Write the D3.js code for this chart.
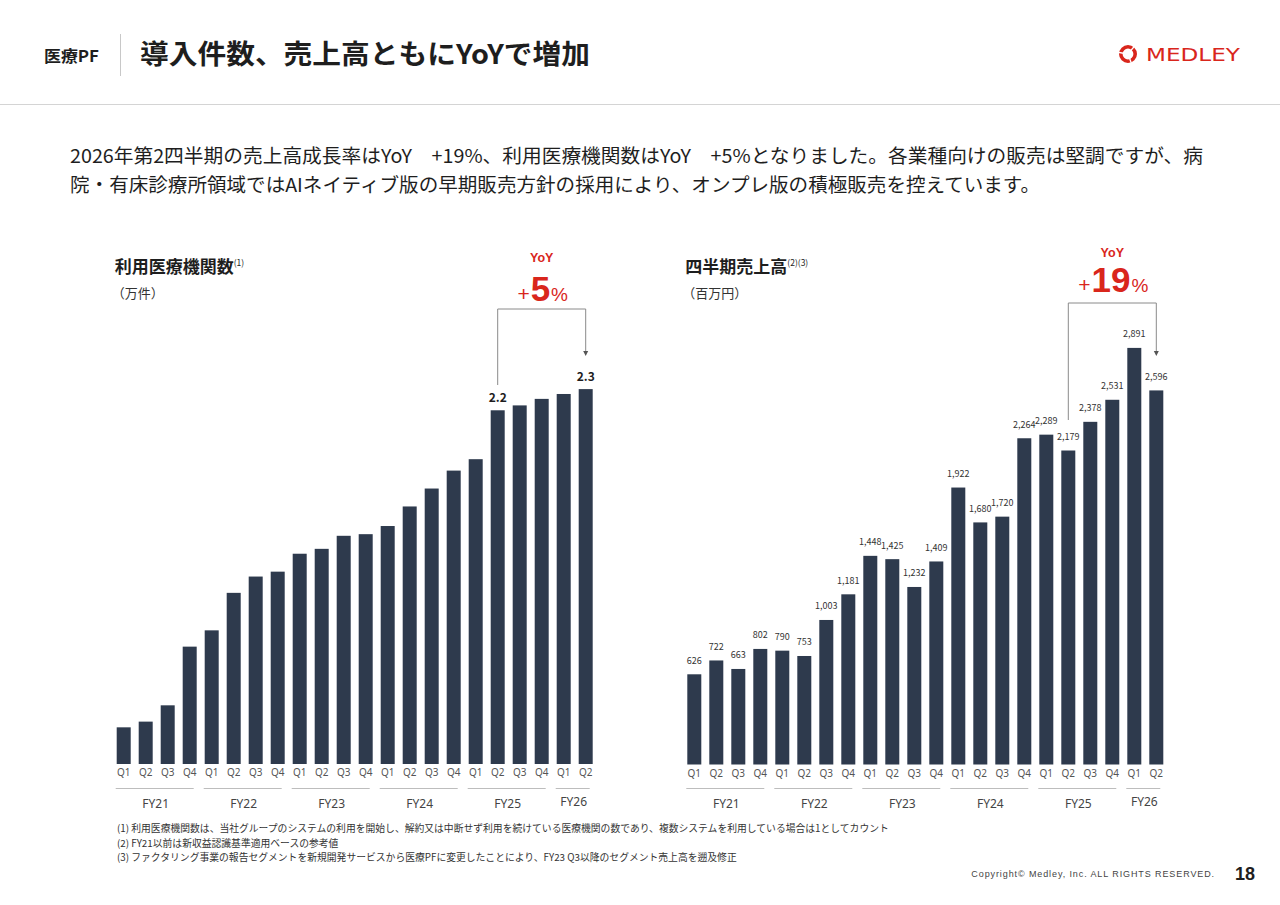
<!DOCTYPE html>
<html>
<head>
<meta charset="utf-8">
<script src="https://cdn.jsdelivr.net/npm/d3@7"></script>
<style>
  html, body { margin: 0; padding: 0; background: #fff; }
  svg { display: block; font-family: "Noto Sans CJK JP", "Noto Sans", sans-serif; }
</style>
</head>
<body>
<svg id="page" width="1280" height="905"></svg>
<script>
// ---- data ----
const fiscalYears = ["FY21", "FY22", "FY23", "FY24", "FY25", "FY26"]
const quarterLabels = ["Q1","Q2","Q3","Q4","Q1","Q2","Q3","Q4","Q1","Q2","Q3","Q4",
                       "Q1","Q2","Q3","Q4","Q1","Q2","Q3","Q4","Q1","Q2"]
const quarterYears = ["FY21","FY21","FY21","FY21","FY22","FY22","FY22","FY22","FY23","FY23","FY23","FY23",
                      "FY24","FY24","FY24","FY24","FY25","FY25","FY25","FY25","FY26","FY26"]

// 利用医療機関数 (万件)
const institutions = [0.225, 0.26, 0.36, 0.72, 0.82, 1.05, 1.15, 1.18, 1.29, 1.32, 1.40,
                      1.41, 1.46, 1.58, 1.69, 1.80, 1.87, 2.17, 2.20, 2.24, 2.27, 2.30]
const institutionLabelIdx = [17, 21]

// 四半期売上高 (百万円)
const sales = [626, 722, 663, 802, 790, 753, 1003, 1181, 1448, 1425, 1232,
               1409, 1922, 1680, 1720, 2264, 2289, 2179, 2378, 2531, 2891, 2596]

const yoyFrom = 17, yoyTo = 21
const footnotes = [
  "(1) 利用医療機関数は、当社グループのシステムの利用を開始し、解約又は中断せず利用を続けている医療機関の数であり、複数システムを利用している場合は1としてカウント",
  "(2) FY21以前は新収益認識基準適用ベースの参考値",
  "(3) ファクタリング事業の報告セグメントを新規開発サービスから医療PFに変更したことにより、FY23 Q3以降のセグメント売上高を遡及修正"
]

const BAR = "#2e3a4d", RED = "#d9261c", TXT = "#1e1e1e"

let svg = d3.select("#page")

// ---- header ----
svg.append("text").attr("x", 44).attr("y", 62)
  .attr("font-size", 16).attr("font-weight", 700).attr("fill", TXT)
  .attr("textLength", 55).attr("lengthAdjust", "spacingAndGlyphs")
  .text("医療PF")
svg.append("line").attr("x1", 120.5).attr("x2", 120.5).attr("y1", 34).attr("y2", 76)
  .attr("stroke", "#c8c8c8")
svg.append("text").attr("x", 140).attr("y", 64)
  .attr("font-size", 27).attr("font-weight", 700).attr("fill", TXT)
  .attr("textLength", 450).attr("lengthAdjust", "spacingAndGlyphs")
  .text("導入件数、売上高ともにYoYで増加")
svg.append("line").attr("x1", 0).attr("x2", 1280).attr("y1", 104.5).attr("y2", 104.5)
  .attr("stroke", "#d4d4d4")

// logo
let logo = svg.append("g").attr("transform", "translate(1128,54)")
logo.append("circle").attr("r", 7.2).attr("fill", "none").attr("stroke", RED).attr("stroke-width", 3.6)
;[20, 140, 260].forEach(a => {
  logo.append("line").attr("x1", 0).attr("y1", -3).attr("x2", 0).attr("y2", -11)
    .attr("stroke", "#fff").attr("stroke-width", 1.4)
    .attr("transform", "rotate(" + a + ") skewX(-20)")
})
svg.append("text").attr("x", 1146).attr("y", 60.5)
  .attr("font-family", "'DejaVu Sans', sans-serif")
  .attr("font-size", 17).attr("font-weight", 500).attr("fill", RED)
  .attr("textLength", 94).attr("lengthAdjust", "spacingAndGlyphs")
  .text("MEDLEY")

// ---- lead paragraph ----
svg.append("text").attr("x", 70).attr("y", 163)
  .attr("font-size", 19).attr("fill", TXT)
  .attr("textLength", 1133).attr("lengthAdjust", "spacingAndGlyphs")
  .text("2026年第2四半期の売上高成長率はYoY\u3000+19%、利用医療機関数はYoY\u3000+5%となりました。各業種向けの販売は堅調ですが、病")
svg.append("text").attr("x", 70).attr("y", 192)
  .attr("font-size", 19).attr("fill", TXT)
  .attr("textLength", 970).attr("lengthAdjust", "spacingAndGlyphs")
  .text("院・有床診療所領域ではAIネイティブ版の早期販売方針の採用により、オンプレ版の積極販売を控えています。")

// ---- charts ----
function drawChart(cfg) {
  let g = svg.append("g")
  let idx = d3.range(cfg.values.length)

  let x = d3.scaleBand().domain(idx)
    .range([cfg.x0 - 4, cfg.x0 - 4 + 22 * idx.length])
    .paddingInner(8 / 22).paddingOuter(4 / 22)
  let y = d3.scaleLinear().domain(cfg.domain).range([cfg.base, cfg.base - cfg.pxPerUnit * cfg.domain[1]])

  // titles
  let t = g.append("text").attr("x", cfg.x0 - 2).attr("y", 273)
    .attr("font-size", 17).attr("font-weight", 700).attr("fill", TXT)
  t.append("tspan").text(cfg.title)
  t.append("tspan").attr("font-size", 8.5).attr("font-weight", 400).attr("dy", -7).text(cfg.note)
  g.append("text").attr("x", cfg.x0 - 5).attr("y", 298)
    .attr("font-size", 13).attr("fill", "#333").text(cfg.unit)

  // bars
  g.selectAll("rect.bar").data(idx).join("rect")
    .attr("class", "bar")
    .attr("x", i => x(i))
    .attr("y", i => y(cfg.values[i]))
    .attr("width", x.bandwidth())
    .attr("height", i => cfg.base - y(cfg.values[i]))
    .attr("fill", BAR)

  // value labels
  g.selectAll("text.val").data(cfg.labelIdx).join("text")
    .attr("class", "val")
    .attr("x", i => x(i) + x.bandwidth() / 2)
    .attr("y", i => y(cfg.values[i]) - cfg.labelGap)
    .attr("text-anchor", "middle")
    .attr("font-size", cfg.labelSize).attr("font-weight", cfg.labelWeight)
    .attr("fill", cfg.labelColor)
    .text(i => cfg.fmt(cfg.values[i]))

  // quarter axis
  let axis = g.append("g").attr("transform", "translate(0," + cfg.base + ")")
    .call(d3.axisBottom(x).tickSize(0).tickPadding(5).tickFormat(i => quarterLabels[i]))
  axis.select(".domain").remove()
  axis.selectAll("text").attr("font-size", 10).attr("fill", "#555")
    .attr("font-family", "'Noto Sans', sans-serif")

  // fiscal year groups
  fiscalYears.forEach(fy => {
    let members = idx.filter(i => quarterYears[i] === fy)
    let a = x(members[0]) - 1
    let b = x(members[members.length - 1]) + x.bandwidth() - 3
    g.append("line").attr("x1", a).attr("x2", b).attr("y1", 788.5).attr("y2", 788.5)
      .attr("stroke", "#bdbdbd")
    g.append("text").attr("x", (a + b) / 2 + 1).attr("y", members.length < 4 ? 806 : 808)
      .attr("text-anchor", "middle").attr("font-size", 12).attr("fill", "#444")
      .attr("font-family", "'Noto Sans', sans-serif")
      .text(fy)
  })

  // YoY bracket
  let xa = x(yoyFrom) + x.bandwidth() / 2
  let xb = x(yoyTo) + x.bandwidth() / 2
  g.append("path")
    .attr("d", d3.line()([[xa, cfg.bracketStart], [xa, cfg.bracketTop], [xb, cfg.bracketTop], [xb, 353]]))
    .attr("fill", "none").attr("stroke", "#8a8a8a").attr("stroke-width", 1)
  g.append("path")
    .attr("d", d3.line()([[xb - 2.5, 351], [xb + 2.5, 351], [xb, 356]]))
    .attr("fill", "#555")

  let cx = (xa + xb) / 2
  g.append("text").attr("x", cx).attr("y", cfg.yoyY)
    .attr("text-anchor", "middle").attr("font-size", 12.5).attr("font-weight", 700)
    .attr("fill", RED).attr("font-family", "'Liberation Sans', Arial, sans-serif").text("YoY")
  let p = g.append("text").attr("x", cx + 1).attr("y", cfg.pctY)
    .attr("text-anchor", "middle").attr("fill", RED)
    .attr("font-family", "'Liberation Sans', Arial, sans-serif")
  p.append("tspan").attr("font-size", 21).attr("font-weight", 400).text("+")
  p.append("tspan").attr("font-size", cfg.pctSize).attr("font-weight", 700).attr("dx", 1).text(cfg.pct)
  p.append("tspan").attr("font-size", 19).attr("font-weight", 400).attr("dx", 1).text("%")
}

drawChart({
  values: institutions, labelIdx: institutionLabelIdx,
  x0: 116.7, base: 764, domain: [0, 2.5], pxPerUnit: 163,
  title: "利用医療機関数", note: "(1)", unit: "（万件）",
  fmt: d3.format(".1f"), labelGap: 8, labelSize: 12, labelWeight: 700, labelColor: "#1e1e1e",
  bracketStart: 385, bracketTop: 309, pct: "5", pctSize: 35, yoyY: 262, pctY: 301
})

drawChart({
  values: sales, labelIdx: d3.range(sales.length),
  x0: 687.3, base: 764.5, domain: [0, 3000], pxPerUnit: 0.1441,
  title: "四半期売上高", note: "(2)(3)", unit: "（百万円）",
  fmt: d3.format(","), labelGap: 10.5, labelSize: 9, labelWeight: 400, labelColor: "#333",
  bracketStart: 420, bracketTop: 303, pct: "19", pctSize: 35, yoyY: 257, pctY: 292
})

// ---- footnotes ----
footnotes.forEach((f, i) => {
  svg.append("text").attr("x", 117).attr("y", 832 + i * 14.5)
    .attr("font-size", 9.8).attr("fill", "#333").text(f)
})

svg.append("text").attr("x", 1215).attr("y", 877)
  .attr("text-anchor", "end").attr("font-size", 9).attr("fill", "#444")
  .attr("font-family", "'Liberation Sans', Arial, sans-serif")
  .attr("letter-spacing", 0.9)
  .text("Copyright© Medley, Inc. ALL RIGHTS RESERVED.")
svg.append("text").attr("x", 1235).attr("y", 880)
  .attr("font-size", 18).attr("font-weight", 700).attr("fill", TXT)
  .attr("font-family", "'Liberation Sans', Arial, sans-serif")
  .text("18")
</script>
</body>
</html>
